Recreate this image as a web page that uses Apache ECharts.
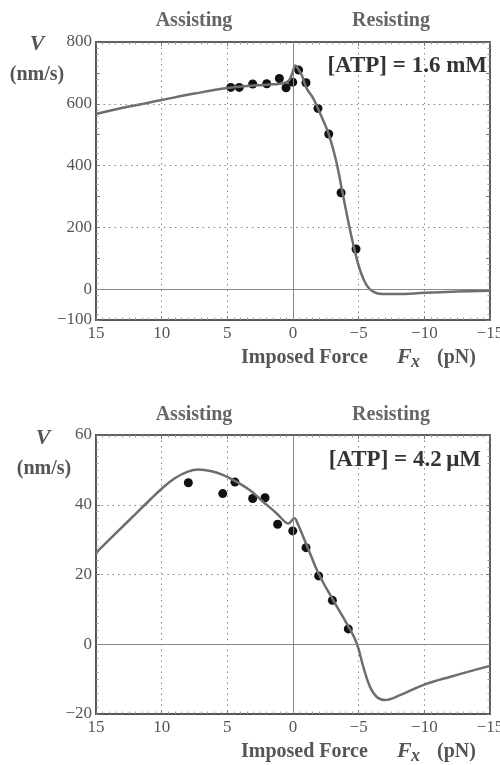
<!DOCTYPE html>
<html><head><meta charset="utf-8">
<script src="https://cdn.jsdelivr.net/npm/echarts@6/dist/echarts.min.js"></script>
<style>html,body{margin:0;padding:0;background:#fff}#c{width:500px;height:765px}</style>
</head><body><div id="c"></div>
<script>
// ---- tick labels ----
const xTicks = [15, 10, 5, 0, -5, -10, -15];
const topYTicks = [-100, 0, 200, 400, 600, 800];
const topGridY = [200, 400, 600];
const botYTicks = [-20, 0, 20, 40, 60];

// ---- top panel: [ATP] = 1.6 mM ----
const topForce = [4.74, 4.09, 3.07, 2.0, 1.04, 0.53, 0.02, -0.43, -0.99, -1.90, -2.72, -3.66, -4.80];
const topVel   = [653, 653, 664, 665, 682, 652, 670, 709, 668, 585, 502, 312, 130];
const topCurveF = [15, 12.5, 10, 7.5, 5, 3, 1.5, 0.8, 0.3, 0.05, -0.18, -0.4, -0.66, -1.04, -1.55, -1.9, -2.31, -2.72, -3.27, -3.78, -4.29, -4.67, -5.1, -5.6, -6.1, -6.8, -8, -10, -12.5, -15];
const topCurveV = [567, 591, 612, 633, 651, 659, 663, 666, 676, 700, 724, 712, 693, 650, 617, 585, 545, 502, 418, 310, 202, 130, 62, 13, -8, -16, -16, -12, -8, -5];

// ---- bottom panel: [ATP] = 4.2 uM ----
const botForce = [7.97, 5.35, 4.42, 3.07, 2.13, 1.17, 0.02, -0.99, -1.95, -3.0, -4.21];
const botVel   = [46.3, 43.2, 46.5, 41.8, 42.0, 34.4, 32.5, 27.7, 19.6, 12.6, 4.4];
const botCurveF = [15, 13.5, 12, 11, 10, 9, 8, 7.2, 6.2, 5.3, 4.5, 3.3, 2.26, 1.24, 0.61, 0.36, -0.1, -0.4, -0.78, -1.3, -1.95, -3.0, -4.2, -4.85, -5.35, -5.86, -6.4, -7.0, -8.15, -9.9, -12, -15];
const botCurveV = [26.2, 31.8, 37.3, 41, 44.6, 47.6, 49.5, 50.1, 49.6, 48.5, 47, 44.2, 40.8, 37.5, 35.1, 34.6, 36.1, 34.2, 30.8, 26, 20.2, 13, 5.2, 0.3, -6.4, -12.2, -15.2, -16, -14.6, -11.7, -9.3, -6.2];

const zip = (a, b) => a.map((v, i) => [v, b[i]]);
const fmt = v => String(v).replace('-', '\u2212');
const SERIF = "'Liberation Serif', 'DejaVu Serif', serif";
const LBL = { fontFamily: SERIF, fontSize: 17, color: '#555' };
const FRAME = '#555';
const tick = { show: true, inside: true, length: 4, lineStyle: { color: '#777', width: 1 } };
const minor = (n) => ({ show: true, splitNumber: n, length: 2.5, lineStyle: { color: '#999', width: 1 } });

function xAxes(gi) {
  return [
    { type: 'value', gridIndex: gi, min: -15, max: 15, interval: 5, inverse: true, position: 'bottom',
      axisLine: { show: true, onZero: false, lineStyle: { color: FRAME, width: 2 } },
      axisTick: tick, minorTick: minor(10),
      axisLabel: Object.assign({ margin: 5, formatter: v => xTicks.includes(v) ? fmt(v) : '' }, LBL),
      splitLine: { show: true, lineStyle: { type: [1.5, 4], color: '#888', width: 1 } } },
    { type: 'value', gridIndex: gi, min: -15, max: 15, interval: 5, inverse: true, position: 'top',
      axisLine: { show: true, onZero: false, lineStyle: { color: FRAME, width: 1.5 } },
      axisTick: tick, minorTick: minor(10), axisLabel: { show: false }, splitLine: { show: false } }
  ];
}
function yAxes(gi, min, max, interval, minorN, labelTicks, split) {
  return [
    { type: 'value', gridIndex: gi, min, max, interval, position: 'left',
      axisLine: { show: true, onZero: false, lineStyle: { color: FRAME, width: 2 } },
      axisTick: tick, minorTick: minor(minorN),
      axisLabel: Object.assign({ margin: 4, formatter: v => labelTicks.includes(v) ? fmt(v) : '' }, LBL),
      splitLine: { show: split, lineStyle: { type: [1.5, 4], color: '#888', width: 1 } } },
    { type: 'value', gridIndex: gi, min, max, interval, position: 'right',
      axisLine: { show: true, onZero: false, lineStyle: { color: FRAME, width: 1.5 } },
      axisTick: tick, minorTick: minor(minorN), axisLabel: { show: false }, splitLine: { show: false } }
  ];
}

const ml = (data) => ({ silent: true, symbol: 'none', label: { show: false }, animation: false, data });
const solid = { color: '#888', width: 1, type: 'solid' };
const dotted = { color: '#888', width: 1, type: [1.5, 4] };
const dotStyle = { color: '#111', opacity: 1 };
const curveStyle = { color: '#6e6e6e', width: 2.5 };

const option = {
  animation: false,
  backgroundColor: '#fff',
  grid: [
    { left: 96, right: 10, top: 42, height: 278, show: true, borderColor: FRAME, borderWidth: 1.5, outerBoundsMode: 'none' },
    { left: 96, right: 10, top: 435, height: 279, show: true, borderColor: FRAME, borderWidth: 1.5, outerBoundsMode: 'none' }
  ],
  xAxis: [...xAxes(0), ...xAxes(1)],
  yAxis: [...yAxes(0, -100, 800, 100, 5, topYTicks, false), ...yAxes(1, -20, 60, 20, 10, botYTicks, true)],
  series: [
    { type: 'line', xAxisIndex: 0, yAxisIndex: 0, data: [], silent: true,
      markLine: ml(topGridY.map(v => ({ yAxis: v, lineStyle: dotted }))) },
    { type: 'line', xAxisIndex: 0, yAxisIndex: 0, data: [], silent: true,
      markLine: ml([{ yAxis: 0, lineStyle: solid }, { xAxis: 0, lineStyle: solid }]) },
    { type: 'scatter', xAxisIndex: 0, yAxisIndex: 0, data: zip(topForce, topVel), symbolSize: 9,
      itemStyle: dotStyle, z: 3 },
    { type: 'line', xAxisIndex: 0, yAxisIndex: 0, data: zip(topCurveF, topCurveV), smooth: 0.4,
      showSymbol: false, lineStyle: curveStyle, z: 4 },
    { type: 'line', xAxisIndex: 2, yAxisIndex: 2, data: [], silent: true,
      markLine: ml([{ yAxis: 0, lineStyle: solid }, { xAxis: 0, lineStyle: solid }]) },
    { type: 'scatter', xAxisIndex: 2, yAxisIndex: 2, data: zip(botForce, botVel), symbolSize: 9,
      itemStyle: dotStyle, z: 3 },
    { type: 'line', xAxisIndex: 2, yAxisIndex: 2, data: zip(botCurveF, botCurveV), smooth: 0.4,
      showSymbol: false, lineStyle: curveStyle, z: 4 }
  ],
  graphic: []
};

function txt(text, x, y, font, fill, align) {
  return { type: 'text', x, y, silent: true, z: 10,
    style: { text, font, fill: fill || '#555', textAlign: align || 'center', textVerticalAlign: 'middle' } };
}
const B20 = "bold 20px " + SERIF;
const BI22 = "italic bold 22px " + SERIF;
function panelTexts(dy, atp, atpX, vx, nmx) {
  return [
    txt('Assisting', 194, 21 + dy, B20, '#666'),
    txt('Resisting', 391, 21 + dy, B20, '#666'),
    txt('V', vx, 44 + dy, BI22, '#555'),
    txt('(nm/s)', nmx, 75 + dy, B20, '#555'),
    txt(atp, atpX, 66 + dy, "bold 23px " + SERIF, '#333', 'right'),
    txt('Imposed Force', 241, 358 + dy, B20, '#555', 'left'),
    txt('F', 397, 357 + dy, BI22, '#555', 'left'),
    txt('x', 411, 362 + dy, "italic bold 18px " + SERIF, '#555', 'left'),
    txt('(pN)', 437, 358 + dy, B20, '#555', 'left')
  ];
}
option.graphic = [
  ...panelTexts(0, '[ATP] = 1.6 mM', 487, 37, 37),
  ...panelTexts(394, '[ATP] = 4.2\u2009\u03bcM', 481, 43, 44)
];

const chart = echarts.init(document.getElementById('c'), null, { renderer: 'canvas' });
chart.setOption(option);
</script>
</body></html>
